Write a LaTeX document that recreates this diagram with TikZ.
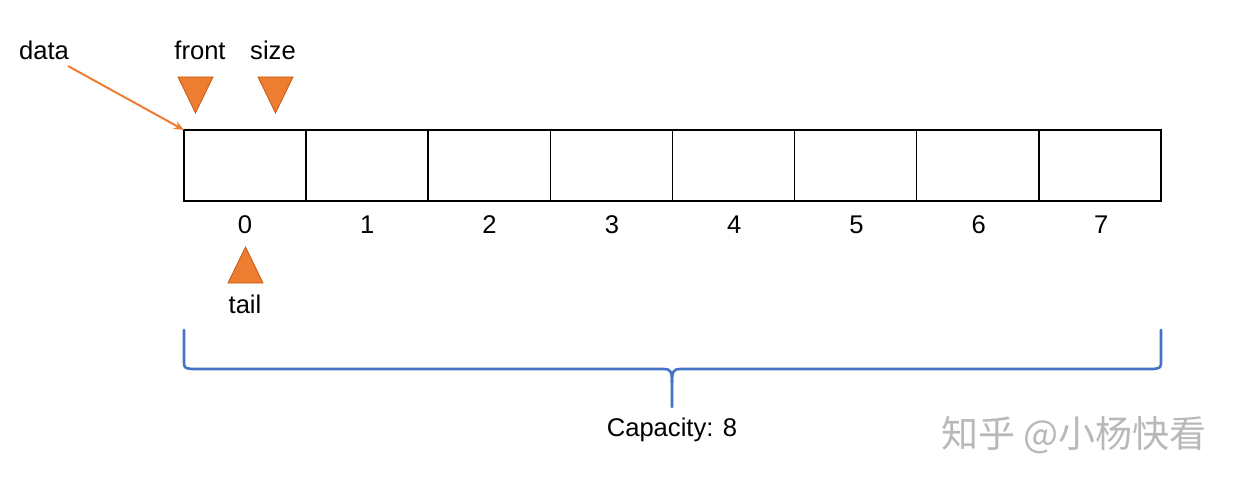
\documentclass[tikz,border=0pt]{standalone}
\usepackage{fontspec}
\setmainfont{Liberation Sans}
\newfontfamily\cjk{Noto Sans CJK SC}
\usetikzlibrary{arrows.meta}
\definecolor{orng}{HTML}{ED7D31}
\definecolor{orngdk}{HTML}{C55A11}
\definecolor{bracecol}{HTML}{4472C4}
\begin{document}
\begin{tikzpicture}[x=0.5pt,y=-0.5pt,
  cell/.style={draw=black,line width=0.7pt,minimum width=61pt,minimum height=35.5pt,inner sep=0pt,outer sep=0pt,anchor=north west},
  lbl/.style={font=\fontsize{12.8}{15}\selectfont,inner sep=0pt,anchor=center},
  tri/.style={fill=orng,draw=orngdk,line width=0.4pt,line join=miter},
  bracestyle/.style={draw=bracecol,line width=1.3pt,line cap=round,line join=round}]
\useasboundingbox (0,0) rectangle (1240,486);
% cells
\foreach \i in {0,...,7}{
  \node[cell] (c\i) at ({184+122.125*\i},130) {};
  \node[lbl] (n\i) at ({245+122.3*\i},225) {\i};
}
% labels
\node[lbl] (data) at (44,50) {data};
\node[lbl] (front) at (200,50) {front};
\node[lbl] (size) at (273,50) {size};
\node[lbl] (tail) at (245,304) {tail};
\node[lbl] (cap) at (672,430) {Capacity: 8};
% data arrow
\coordinate (ds) at (68,66);
\draw[orng,line width=1pt,-{Stealth[length=5pt,width=4pt]}] (ds) -- (c0.north west);
% triangles
\draw[tri] (178,77) -- (213,77) -- (195.5,113) -- cycle;
\draw[tri] (258,77) -- (293,77) -- (275.5,113) -- cycle;
\draw[tri] (228,283) -- (263,283) -- (245.5,247) -- cycle;
% brace
\coordinate (bl) at (184,330);
\coordinate (br) at (1161,330);
\coordinate (btip) at (672,407);
\draw[bracestyle] (bl) -- (184,360) .. controls (184,368) .. (192,369) -- (664,369) .. controls (670,369) and (672,371) .. (672,382) -- (btip);
\draw[bracestyle] (br) -- (1161,360) .. controls (1161,368) .. (1153,369) -- (680,369) .. controls (674,369) and (672,371) .. (672,382);
% watermark
\node[inner sep=0pt,text=black!28,font=\cjk\fontsize{18.5}{22}\selectfont] (wm) at (1074,435) {知乎 @小杨快看};
\end{tikzpicture}
\end{document}
